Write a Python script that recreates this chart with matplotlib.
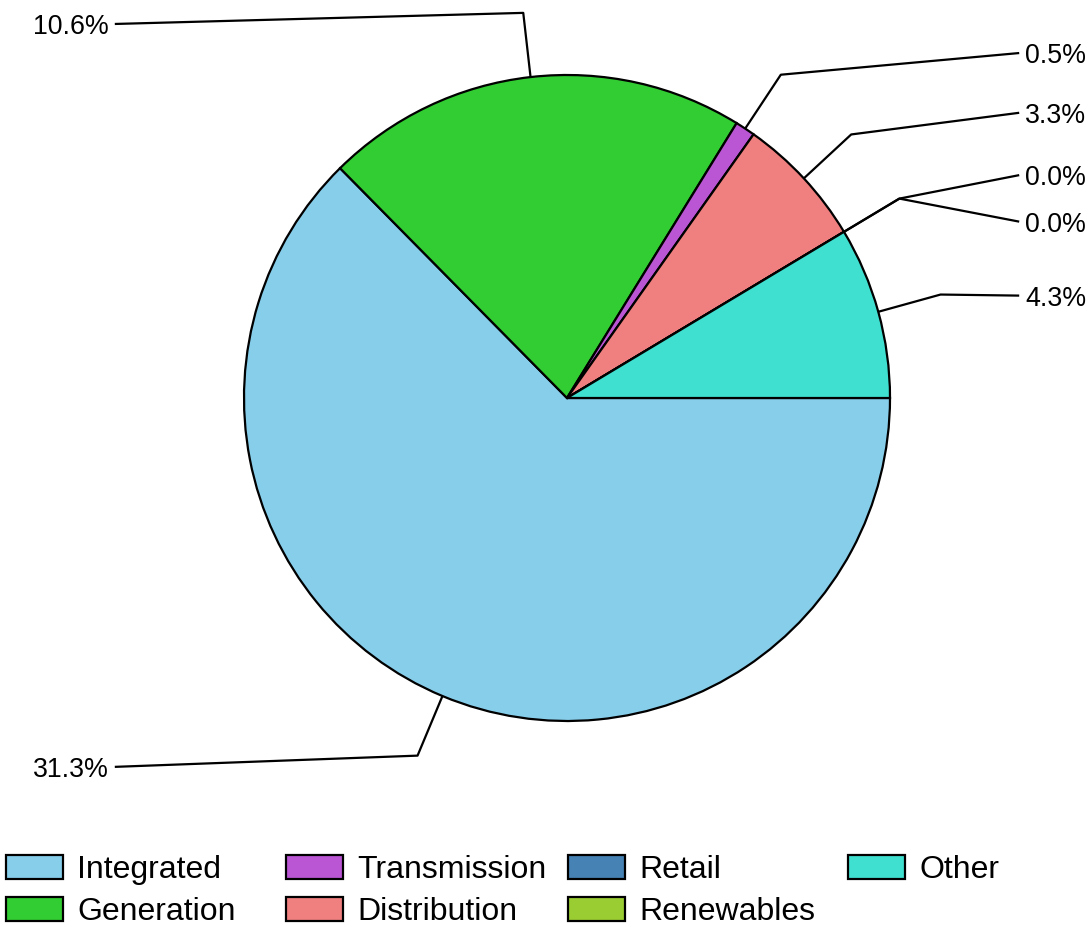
import numpy as np
import matplotlib
matplotlib.use('Agg')
import matplotlib.pyplot as plt
from matplotlib.patches import Patch

categories = ['Integrated', 'Generation', 'Transmission', 'Distribution',
              'Retail', 'Renewables', 'Other']
values = [31.3, 10.6, 0.5, 3.3, 0.0, 0.0, 4.3]
labels = ['31.3%', '10.6%', '0.5%', '3.3%', '0.0%', '0.0%', '4.3%']
colors = ['#87CEEB', '#32CD32', '#BA55D3', '#F08080', '#4682B4', '#9ACD32', '#40E0D0']

# label layout (in pie-radius units)
label_side = [-1, -1, 1, 1, 1, 1, 1]
label_y = [-1.142, 1.158, 1.068, 0.883, 0.690, 0.546, 0.317]

plt.rcParams['font.family'] = ['Liberation Sans', 'DejaVu Sans']
W, H = 1089, 927
fig = plt.figure(figsize=(W / 100, H / 100), dpi=100)
ax = fig.add_axes([0, 0, 1, 1])
wedges, _ = ax.pie(values, colors=colors, startangle=0, counterclock=False,
                   wedgeprops=dict(edgecolor='black', linewidth=1.6))
R = 323.0
cx, cy = 567.0, 398.0
ax.set_xlim(-cx / R, (W - cx) / R)
ax.set_ylim(-(H - cy) / R, cy / R)
ax.set_aspect('equal')
ax.axis('off')

for w, lab, side, ly in zip(wedges, labels, label_side, label_y):
    ang = np.deg2rad((w.theta1 + w.theta2) / 2.0)
    c, s = np.cos(ang), np.sin(ang)
    xs = [c, 1.2 * c, side * 1.4]
    ys = [s, 1.2 * s, ly]
    ax.plot(xs, ys, color='black', lw=1.6, solid_capstyle='butt')
    ax.text(side * 1.419, ly, lab, ha='left' if side > 0 else 'right',
            va='center_baseline', fontsize=19.3, color='black')

cols = [[0, 1], [2, 3], [4, 5], [6]]
col_x_px = [6, 286, 568, 848]
for idx, x in zip(cols, col_x_px):
    handles = [Patch(facecolor=colors[i], edgecolor='black', lw=1.6, label=categories[i])
               for i in idx]
    fig.legend(handles=handles, loc='upper left', bbox_to_anchor=(x / W, 1 - 855 / H),
               frameon=False, fontsize=23, handlelength=1.78, handleheight=0.78,
               handletextpad=0.45, labelspacing=0.36, borderpad=0, borderaxespad=0)

fig.savefig('out.png', dpi=100)
